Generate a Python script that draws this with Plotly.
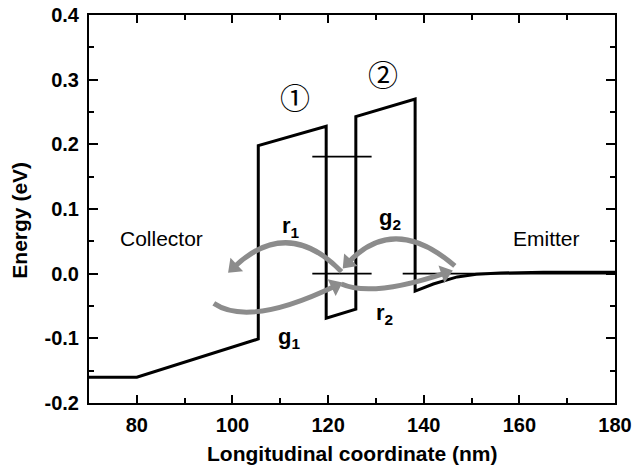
import plotly.graph_objects as go

# Band profile (conduction band edge)
band_x = [70, 80, 105.4, 105.4, 119.6, 119.6, 125.8, 125.8, 138.2, 138.2, 142, 147, 151, 156, 165, 180]
band_y = [-0.160, -0.160, -0.101, 0.198, 0.228, -0.069, -0.055, 0.243, 0.270, -0.027, -0.016, -0.005, -0.001, 0.001, 0.002, 0.002]

# Energy levels (x0, x1, y)
level_x0 = [116.7, 116.7, 135.6]
level_x1 = [129.1, 129.1, 180.0]
level_y = [0.181, 0.0, 0.0]

# Curved arrows: start, control, tip (data coords)
arrow_names = ["r1", "g1", "g2", "r2"]
arrow_p0 = [(122.8, 0.003), (96.1, -0.046), (146.5, 0.012), (122.8, -0.016)]
arrow_c = [(111.6, 0.089), (103.5, -0.083), (133.8, 0.093), (129.1, -0.037)]
arrow_p2 = [(100.3, 0.010), (121.5, -0.019), (124.2, 0.017), (144.5, 0.001)]

# Text labels
label_text = ["<b>r<sub>1</sub></b>", "<b>g<sub>1</sub></b>", "<b>g<sub>2</sub></b>", "<b>r<sub>2</sub></b>"]
label_x = [112.2, 111.8, 132.9, 131.9]
label_y = [0.072, -0.100, 0.085, -0.062]

region_text = ["Collector", "Emitter"]
region_x = [85.2, 165.7]
region_y = [0.055, 0.055]

circ_text = ["\u2460", "\u2461"]
circ_x = [113.1, 131.5]
circ_y = [0.275, 0.310]

x_ticks = [80, 100, 120, 140, 160, 180]
y_ticks = [-0.2, -0.1, 0.0, 0.1, 0.2, 0.3, 0.4]

GRAY = "#8c8c8c"
FONT = "Liberation Sans, Arial"

fig = go.Figure()
fig.add_trace(go.Scatter(x=band_x, y=band_y, mode="lines",
                         line=dict(color="black", width=3), showlegend=False, hoverinfo="skip"))
for x0, x1, y in zip(level_x0, level_x1, level_y):
    fig.add_trace(go.Scatter(x=[x0, x1], y=[y, y], mode="lines",
                             line=dict(color="black", width=1.6), showlegend=False, hoverinfo="skip"))

shapes = []
for p0, c, p2 in zip(arrow_p0, arrow_c, arrow_p2):
    shapes.append(dict(type="path", xref="x", yref="y",
                       path=f"M {p0[0]},{p0[1]} Q {c[0]},{c[1]} {p2[0]},{p2[1]}",
                       line=dict(color=GRAY, width=5), layer="above"))
    fig.add_trace(go.Scatter(x=[c[0], p2[0]], y=[c[1], p2[1]], mode="markers",
                             marker=dict(symbol="triangle-up", size=[1, 16], color=GRAY,
                                         opacity=[0, 1],
                                         angleref="previous", line=dict(width=0)),
                             showlegend=False, hoverinfo="skip"))

annotations = []
for t, x, y in zip(label_text, label_x, label_y):
    annotations.append(dict(x=x, y=y, xref="x", yref="y", text=t, showarrow=False,
                            font=dict(family=FONT, size=22, color="black")))
for t, x, y in zip(region_text, region_x, region_y):
    annotations.append(dict(x=x, y=y, xref="x", yref="y", text=t, showarrow=False,
                            font=dict(family=FONT, size=21, color="black")))
for t, x, y in zip(circ_text, circ_x, circ_y):
    annotations.append(dict(x=x, y=y, xref="x", yref="y", text=t, showarrow=False,
                            font=dict(family="Noto Sans CJK SC", size=30, color="black")))

# axis titles
annotations.append(dict(x=0.5, y=0, xref="paper", yref="paper", xanchor="center", yanchor="top",
                        yshift=-37, text="<b>Longitudinal coordinate (nm)</b>", showarrow=False,
                        font=dict(family=FONT, size=21, color="black")))
annotations.append(dict(x=0, y=0.47, xref="paper", yref="paper", xanchor="center", yanchor="middle",
                        xshift=-69, textangle=-90, text="<b>Energy (eV)</b>", showarrow=False,
                        font=dict(family=FONT, size=21, color="black")))

axis_common = dict(showgrid=False, zeroline=False, showline=True, linecolor="black", linewidth=2,
                   mirror="ticks", ticks="inside", tickcolor="black", tickwidth=2, automargin=False,
                   tickfont=dict(family=FONT, size=20, color="black"))

fig.update_layout(
    width=633, height=470,
    margin=dict(l=89, r=18, t=15, b=67),
    paper_bgcolor="white", plot_bgcolor="white",
    shapes=shapes, annotations=annotations,
    xaxis=dict(range=[70, 180], tickvals=x_ticks,
               ticktext=[f"<b>{v}</b>" for v in x_ticks],
               ticklen=8, ticklabelstandoff=3,
               minor=dict(dtick=10, tick0=70, ticks="inside", ticklen=5, tickwidth=2, tickcolor="black"),
               **axis_common),
    yaxis=dict(range=[-0.2, 0.4], tickvals=y_ticks,
               ticktext=[f"<b>{v:.1f}</b>" for v in y_ticks],
               ticklen=9, ticklabelstandoff=4,
               minor=dict(dtick=0.05, tick0=0, ticks="inside", ticklen=5, tickwidth=2, tickcolor="black"),
               **axis_common),
)

fig.write_html("out.html", config={"displayModeBar": False},
               post_script="document.body.style.margin='0';document.body.style.overflow='hidden';")
